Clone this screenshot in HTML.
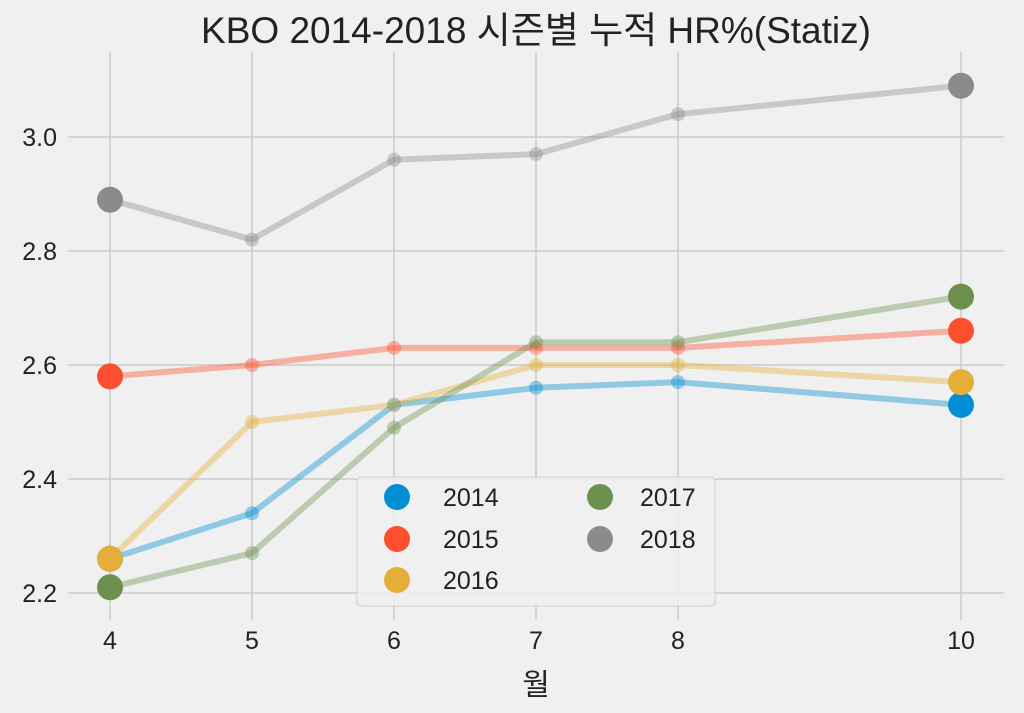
<!DOCTYPE html>
<html><head><meta charset="utf-8"><style>
html,body{margin:0;padding:0;background:#f0f0f0;}
text{font-family:"Liberation Sans","Noto Sans CJK KR",sans-serif;fill:#222;}
</style></head><body>
<svg width="1024" height="708" viewBox="0 0 1024 708" xmlns="http://www.w3.org/2000/svg">
<rect width="1024" height="708" fill="#f0f0f0"/>
<g stroke="#cbcbcb" stroke-width="1.5">
<line x1="68" x2="1004" y1="137" y2="137"/>
<line x1="68" x2="1004" y1="251" y2="251"/>
<line x1="68" x2="1004" y1="365" y2="365"/>
<line x1="68" x2="1004" y1="479" y2="479"/>
<line x1="68" x2="1004" y1="593" y2="593"/>
<line x1="110" x2="110" y1="52" y2="620"/>
<line x1="252" x2="252" y1="52" y2="620"/>
<line x1="394" x2="394" y1="52" y2="620"/>
<line x1="536" x2="536" y1="52" y2="620"/>
<line x1="678" x2="678" y1="52" y2="620"/>
<line x1="961" x2="961" y1="52" y2="620"/>
</g>
<g fill="none" stroke-width="6" stroke-opacity="0.4" stroke-linejoin="round">
<polyline stroke="#008fd5" points="110,558.8 252,513.2 394,404.9 536,387.8 678,382.1 961,404.9"/>
<polyline stroke="#fc4f30" points="110,376.4 252,365 394,347.9 536,347.9 678,347.9 961,330.8"/>
<polyline stroke="#e5ae38" points="110,558.8 252,422 394,404.9 536,365 678,365 961,382.1"/>
<polyline stroke="#6d904f" points="110,587.3 252,553.1 394,427.7 536,342.2 678,342.2 961,296.6"/>
<polyline stroke="#8b8b8b" points="110,199.7 252,239.6 394,159.8 536,154.1 678,114.2 961,85.7"/>
</g>
<g fill-opacity="0.4">
<g fill="#008fd5"><circle cx="252" cy="513.2" r="7"/><circle cx="394" cy="404.9" r="7"/><circle cx="536" cy="387.8" r="7"/><circle cx="678" cy="382.1" r="7"/></g>
<g fill="#fc4f30"><circle cx="252" cy="365" r="7"/><circle cx="394" cy="347.9" r="7"/><circle cx="536" cy="347.9" r="7"/><circle cx="678" cy="347.9" r="7"/></g>
<g fill="#e5ae38"><circle cx="252" cy="422" r="7"/><circle cx="394" cy="404.9" r="7"/><circle cx="536" cy="365" r="7"/><circle cx="678" cy="365" r="7"/></g>
<g fill="#6d904f"><circle cx="252" cy="553.1" r="7"/><circle cx="394" cy="427.7" r="7"/><circle cx="536" cy="342.2" r="7"/><circle cx="678" cy="342.2" r="7"/></g>
<g fill="#8b8b8b"><circle cx="252" cy="239.6" r="7"/><circle cx="394" cy="159.8" r="7"/><circle cx="536" cy="154.1" r="7"/><circle cx="678" cy="114.2" r="7"/></g>
</g>
<g>
<circle cx="110" cy="558.8" r="13" fill="#008fd5"/><circle cx="961" cy="404.9" r="13" fill="#008fd5"/>
<circle cx="110" cy="376.4" r="13" fill="#fc4f30"/><circle cx="961" cy="330.8" r="13" fill="#fc4f30"/>
<circle cx="110" cy="558.8" r="13" fill="#e5ae38"/><circle cx="961" cy="382.1" r="13" fill="#e5ae38"/>
<circle cx="110" cy="587.3" r="13" fill="#6d904f"/><circle cx="961" cy="296.6" r="13" fill="#6d904f"/>
<circle cx="110" cy="199.7" r="13" fill="#8b8b8b"/><circle cx="961" cy="85.7" r="13" fill="#8b8b8b"/>
</g>
<rect x="357" y="477" width="358" height="129" rx="4" fill="#f0f0f0" fill-opacity="0.85" stroke="#d0d0d0"/>
<g font-size="25">
<circle cx="397" cy="497" r="13" fill="#008fd5"/><text x="443" y="506">2014</text>
<circle cx="397" cy="539" r="13" fill="#fc4f30"/><text x="443" y="548">2015</text>
<circle cx="397" cy="580" r="13" fill="#e5ae38"/><text x="443" y="589">2016</text>
<circle cx="600" cy="497" r="13" fill="#6d904f"/><text x="640" y="506">2017</text>
<circle cx="600" cy="539" r="13" fill="#8b8b8b"/><text x="640" y="548">2018</text>
</g>
<g font-size="25" text-anchor="end">
<text x="57" y="146">3.0</text><text x="57" y="260">2.8</text><text x="57" y="374">2.6</text><text x="57" y="488">2.4</text><text x="57" y="602">2.2</text>
</g>
<g font-size="25" text-anchor="middle">
<text x="110" y="649">4</text><text x="252" y="649">5</text><text x="394" y="649">6</text><text x="536" y="649">7</text><text x="678" y="649">8</text><text x="961" y="649">10</text>
<text x="536" y="695" font-size="30">월</text>
<text x="536" y="43" font-size="37">KBO 2014-2018 시즌별 누적 HR%(Statiz)</text>
</g>
</svg>
</body></html>
